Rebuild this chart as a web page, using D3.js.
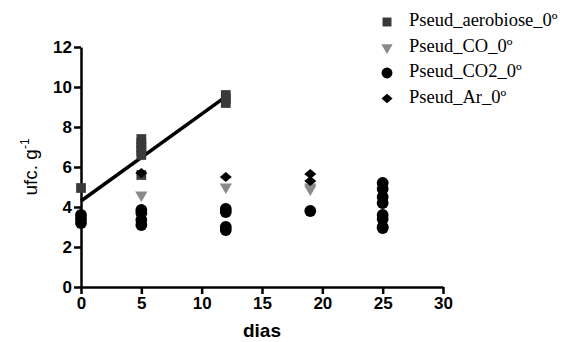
<!DOCTYPE html>
<html>
<head>
<meta charset="utf-8">
<script src="https://cdn.jsdelivr.net/npm/d3@7"></script>
<style>
  body { margin: 0; background: #fff; }
</style>
</head>
<body>
<script>
// series data: [dias, ufc]
const aerobiose = [
  [0, 4.95], [0, 3.5], [0, 3.4], [0, 3.3],
  [5, 7.4], [5, 7.2], [5, 7.0], [5, 6.8], [5, 6.6], [5, 5.6],
  [12, 9.6], [12, 9.4], [12, 9.2]
];
const co = [[5, 4.6], [12, 5.0], [19, 5.0], [19, 4.9]];
const co2 = [
  [0, 3.6], [0, 3.4], [0, 3.2],
  [5, 3.85], [5, 3.7], [5, 3.35], [5, 3.1],
  [12, 3.9], [12, 3.75], [12, 3.0], [12, 2.85],
  [19, 3.8],
  [25, 5.2], [25, 4.9], [25, 4.5], [25, 4.2], [25, 3.6], [25, 3.4], [25, 3.0], [25, 2.95]
];
const ar = [[5, 5.7], [12, 5.5], [19, 5.65], [19, 5.3], [25, 5.25]];

// linear fit of aerobiose (from day 0 to day 12)
const fitRange = [0, 12];
const fitIntercept = 4.3;
const fitSlope = 0.435;

const xTicks = [0, 5, 10, 15, 20, 25, 30];
const yTicks = [0, 2, 4, 6, 8, 10, 12];
const seriesNames = ['Pseud_aerobiose_0º', 'Pseud_CO_0º', 'Pseud_CO2_0º', 'Pseud_Ar_0º'];

const width = 571;
const height = 342;
const marginLeft = 81;
const marginRight = 128;
const marginTop = 47;
const marginBottom = 55;

const svg = d3.select('body')
  .append('svg')
  .attr('width', width)
  .attr('height', height)
  .attr('viewBox', [0, 0, width, height]);

const x = d3.scaleLinear().domain([0, 30]).range([marginLeft, width - marginRight]);
const y = d3.scaleLinear().domain([0, 12]).range([height - marginBottom, marginTop]);

// Axes
const xAxis = svg.append('g')
  .attr('transform', `translate(0,${height - marginBottom})`)
  .call(d3.axisBottom(x).tickValues(xTicks).tickSize(7).tickSizeOuter(0).tickPadding(3));
const yAxis = svg.append('g')
  .attr('transform', `translate(${marginLeft},0)`)
  .call(d3.axisLeft(y).tickValues(yTicks).tickSize(7).tickSizeOuter(0).tickPadding(2));

[xAxis, yAxis].forEach((g) => {
  g.attr('font-family', '"Liberation Sans", Arial, sans-serif')
    .attr('font-size', 17)
    .attr('font-weight', 'bold');
  g.select('.domain').attr('stroke', '#000').attr('stroke-width', 2.5);
  g.selectAll('.tick line').attr('stroke', '#000').attr('stroke-width', 2.5);
  g.selectAll('.tick text')
    .attr('fill', '#000')
    .style('font-weight', '700');
});

// Axis titles
svg.append('text')
  .attr('x', x(15))
  .attr('y', 337)
  .attr('text-anchor', 'middle')
  .style('font-family', '"Liberation Sans", Arial, sans-serif')
  .style('font-size', '19px')
  .style('font-weight', 'bold')
  .text('dias');

const yTitle = svg.append('text')
  .attr('transform', `translate(37,${y(6)}) rotate(-90)`)
  .attr('text-anchor', 'middle')
  .style('font-family', '"Liberation Sans", Arial, sans-serif')
  .style('font-size', '19px');
yTitle.append('tspan').text('ufc. g');
yTitle.append('tspan').attr('dy', -8).style('font-size', '12px').text('-1');

// Regression line
const line = d3.line().x((d) => x(d[0])).y((d) => y(d[1]));
svg.append('path')
  .attr('fill', 'none')
  .attr('stroke', '#000')
  .attr('stroke-width', 3.5)
  .attr('d', line(fitRange.map((d) => [d, fitIntercept + fitSlope * d])));

// Marker styles
const styles = [
  { data: aerobiose, symbol: d3.symbolSquare, size: 95, fill: '#3a3a3a', rot: 0, sy: 1 },
  { data: co, symbol: d3.symbolTriangle, size: 65, fill: '#8a8a8a', rot: 180, sy: 1 },
  { data: co2, symbol: d3.symbolCircle, size: 110, fill: '#000', rot: 0, sy: 1 },
  { data: ar, symbol: d3.symbolSquare, size: 72, fill: '#000', rot: 45, sy: 0.85 }
];

styles.forEach((s) => {
  svg.append('g')
    .selectAll('path')
    .data(s.data)
    .join('path')
    .attr('d', d3.symbol().type(s.symbol).size(s.size))
    .attr('transform', (d) => `translate(${x(d[0])},${y(d[1])}) scale(1,${s.sy}) rotate(${s.rot})`)
    .attr('fill', s.fill);
});

// Handmade legend
styles.forEach((s, i) => {
  const ly = 22 + i * 25.5;
  svg.append('path')
    .attr('d', d3.symbol().type(s.symbol).size(s.size * 0.85))
    .attr('transform', `translate(387,${ly}) scale(1,${s.sy}) rotate(${s.rot})`)
    .attr('fill', s.fill);
  svg.append('text')
    .attr('x', 409)
    .attr('y', ly)
    .attr('dominant-baseline', 'middle')
    .style('font-family', '"Liberation Serif", "Times New Roman", serif')
    .style('font-size', '18.5px')
    .text(seriesNames[i]);
});
</script>
</body>
</html>
